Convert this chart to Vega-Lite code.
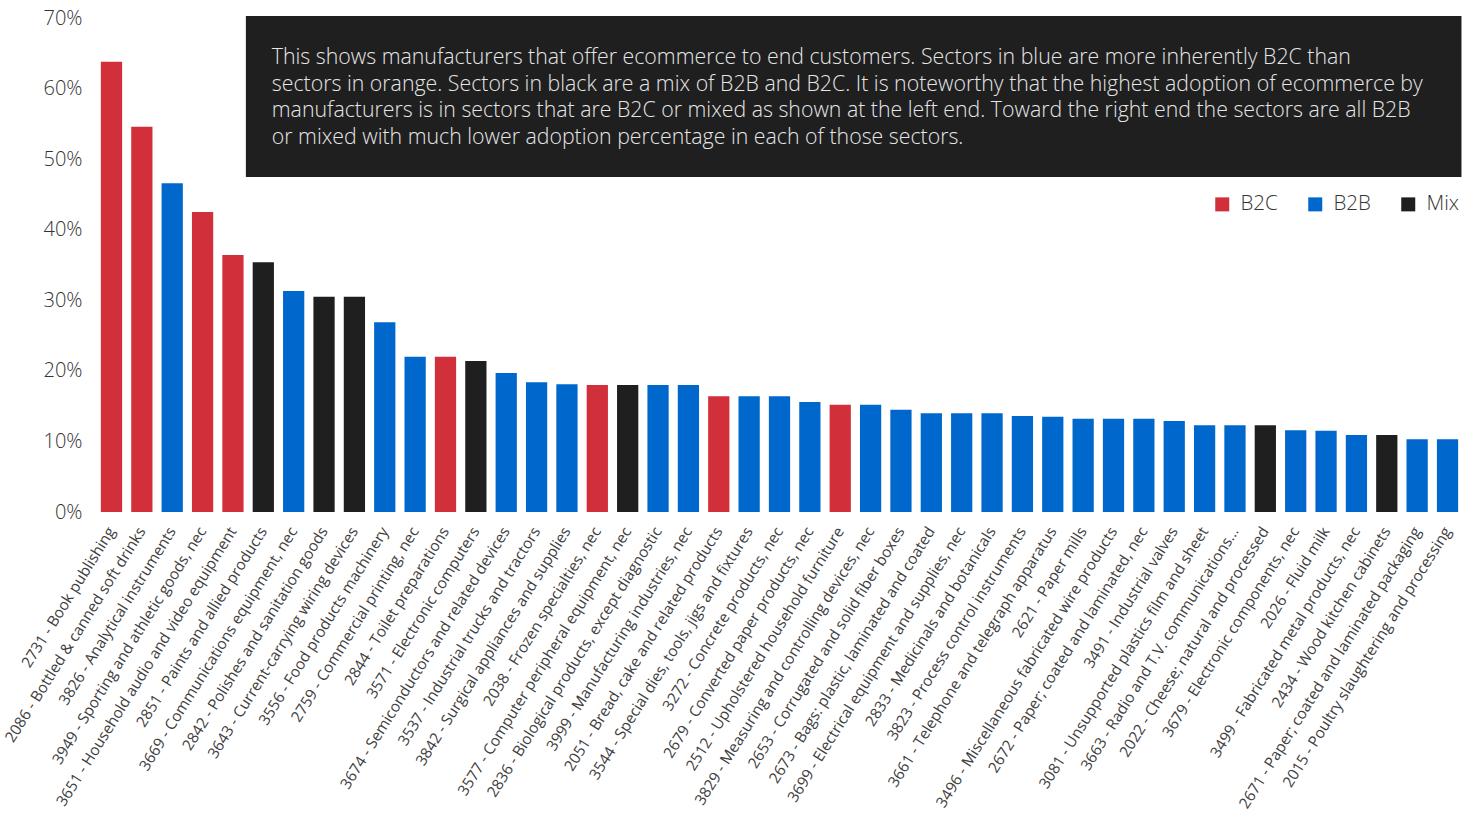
{
  "$schema": "https://vega.github.io/schema/vega-lite/v6.json",
  "autosize": {"type": "none"},
  "padding": {"left": 96, "top": 18, "right": 13, "bottom": 305},
  "width": 1367,
  "height": 494,
  "config": {
    "font": "Open Sans",
    "view": {"stroke": null},
    "background": "#ffffff"
  },
  "datasets": {
    "bars": [
      {"sector": "2731 - Book publishing", "share": 0.638, "type": "B2C"},
      {"sector": "2086 - Bottled & canned soft drinks", "share": 0.546, "type": "B2C"},
      {"sector": "3826 - Analytical instruments", "share": 0.466, "type": "B2B"},
      {"sector": "3949 - Sporting and athletic goods, nec", "share": 0.425, "type": "B2C"},
      {"sector": "3651 - Household audio and video equipment", "share": 0.364, "type": "B2C"},
      {"sector": "2851 - Paints and allied products", "share": 0.354, "type": "Mix"},
      {"sector": "3669 - Communications equipment, nec", "share": 0.313, "type": "B2B"},
      {"sector": "2842 - Polishes and sanitation goods", "share": 0.305, "type": "Mix"},
      {"sector": "3643 - Current-carrying wiring devices", "share": 0.305, "type": "Mix"},
      {"sector": "3556 - Food products machinery", "share": 0.269, "type": "B2B"},
      {"sector": "2759 - Commercial printing, nec", "share": 0.220, "type": "B2B"},
      {"sector": "2844 - Toilet preparations", "share": 0.220, "type": "B2C"},
      {"sector": "3571 - Electronic computers", "share": 0.214, "type": "Mix"},
      {"sector": "3674 - Semiconductors and related devices", "share": 0.197, "type": "B2B"},
      {"sector": "3537 - Industrial trucks and tractors", "share": 0.184, "type": "B2B"},
      {"sector": "3842 - Surgical appliances and supplies", "share": 0.181, "type": "B2B"},
      {"sector": "2038 - Frozen specialties, nec", "share": 0.180, "type": "B2C"},
      {"sector": "3577 - Computer peripheral equipment, nec", "share": 0.180, "type": "Mix"},
      {"sector": "2836 - Biological products, except diagnostic", "share": 0.180, "type": "B2B"},
      {"sector": "3999 - Manufacturing industries, nec", "share": 0.180, "type": "B2B"},
      {"sector": "2051 - Bread, cake and related products", "share": 0.164, "type": "B2C"},
      {"sector": "3544 - Special dies, tools, jigs and fixtures", "share": 0.164, "type": "B2B"},
      {"sector": "3272 - Concrete products, nec", "share": 0.164, "type": "B2B"},
      {"sector": "2679 - Converted paper products, nec", "share": 0.156, "type": "B2B"},
      {"sector": "2512 - Upholstered household furniture", "share": 0.152, "type": "B2C"},
      {"sector": "3829 - Measuring and controlling devices, nec", "share": 0.152, "type": "B2B"},
      {"sector": "2653 - Corrugated and solid fiber boxes", "share": 0.145, "type": "B2B"},
      {"sector": "2673 - Bags: plastic, laminated and coated", "share": 0.140, "type": "B2B"},
      {"sector": "3699 - Electrical equipment and supplies, nec", "share": 0.140, "type": "B2B"},
      {"sector": "2833 - Medicinals and botanicals", "share": 0.140, "type": "B2B"},
      {"sector": "3823 - Process control instruments", "share": 0.136, "type": "B2B"},
      {"sector": "3661 - Telephone and telegraph apparatus", "share": 0.135, "type": "B2B"},
      {"sector": "2621 - Paper mills", "share": 0.132, "type": "B2B"},
      {"sector": "3496 - Miscellaneous fabricated wire products", "share": 0.132, "type": "B2B"},
      {"sector": "2672 - Paper; coated and laminated, nec", "share": 0.132, "type": "B2B"},
      {"sector": "3491 - Industrial valves", "share": 0.129, "type": "B2B"},
      {"sector": "3081 - Unsupported plastics film and sheet", "share": 0.123, "type": "B2B"},
      {"sector": "3663 - Radio and T.V. communications...", "share": 0.123, "type": "B2B"},
      {"sector": "2022 - Cheese; natural and processed", "share": 0.123, "type": "Mix"},
      {"sector": "3679 - Electronic components, nec", "share": 0.116, "type": "B2B"},
      {"sector": "2026 - Fluid milk", "share": 0.115, "type": "B2B"},
      {"sector": "3499 - Fabricated metal products, nec", "share": 0.109, "type": "B2B"},
      {"sector": "2434 - Wood kitchen cabinets", "share": 0.109, "type": "Mix"},
      {"sector": "2671 - Paper; coated and laminated packaging", "share": 0.103, "type": "B2B"},
      {"sector": "2015 - Poultry slaughtering and processing", "share": 0.103, "type": "B2B"}
    ],
    "note": [
      {
        "sector": "2851 - Paints and allied products",
        "sectorEnd": "2015 - Poultry slaughtering and processing",
        "top": 0.703,
        "bottom": 0.4747,
        "textY": 0.6433,
        "note": "This shows manufacturers that offer ecommerce to end customers. Sectors in blue are more inherently B2C than\nsectors in orange. Sectors in black are a mix of B2B and B2C. It is noteworthy that the highest adoption of ecommerce by\nmanufacturers is in sectors that are B2C or mixed as shown at the left end. Toward the right end the sectors are all B2B\nor mixed with much lower adoption percentage in each of those sectors."
      }
    ]
  },
  "layer": [
    {
      "data": {"name": "bars"},
      "mark": {"type": "bar"},
      "encoding": {
        "x": {
          "field": "sector",
          "type": "nominal",
          "sort": null,
          "scale": {
            "domain": [
              "2731 - Book publishing",
              "2086 - Bottled & canned soft drinks",
              "3826 - Analytical instruments",
              "3949 - Sporting and athletic goods, nec",
              "3651 - Household audio and video equipment",
              "2851 - Paints and allied products",
              "3669 - Communications equipment, nec",
              "2842 - Polishes and sanitation goods",
              "3643 - Current-carrying wiring devices",
              "3556 - Food products machinery",
              "2759 - Commercial printing, nec",
              "2844 - Toilet preparations",
              "3571 - Electronic computers",
              "3674 - Semiconductors and related devices",
              "3537 - Industrial trucks and tractors",
              "3842 - Surgical appliances and supplies",
              "2038 - Frozen specialties, nec",
              "3577 - Computer peripheral equipment, nec",
              "2836 - Biological products, except diagnostic",
              "3999 - Manufacturing industries, nec",
              "2051 - Bread, cake and related products",
              "3544 - Special dies, tools, jigs and fixtures",
              "3272 - Concrete products, nec",
              "2679 - Converted paper products, nec",
              "2512 - Upholstered household furniture",
              "3829 - Measuring and controlling devices, nec",
              "2653 - Corrugated and solid fiber boxes",
              "2673 - Bags: plastic, laminated and coated",
              "3699 - Electrical equipment and supplies, nec",
              "2833 - Medicinals and botanicals",
              "3823 - Process control instruments",
              "3661 - Telephone and telegraph apparatus",
              "2621 - Paper mills",
              "3496 - Miscellaneous fabricated wire products",
              "2672 - Paper; coated and laminated, nec",
              "3491 - Industrial valves",
              "3081 - Unsupported plastics film and sheet",
              "3663 - Radio and T.V. communications...",
              "2022 - Cheese; natural and processed",
              "3679 - Electronic components, nec",
              "2026 - Fluid milk",
              "3499 - Fabricated metal products, nec",
              "2434 - Wood kitchen cabinets",
              "2671 - Paper; coated and laminated packaging",
              "2015 - Poultry slaughtering and processing"
            ],
            "paddingInner": 0.3,
            "paddingOuter": 0.16
          },
          "axis": {
            "title": null,
            "labelAngle": -58,
            "labelAlign": "right",
            "labelBaseline": "middle",
            "labelPadding": 16,
            "labelFontSize": 15.3,
            "labelColor": "#404040",
            "labelLimit": 500,
            "labelOverlap": false,
            "domain": false,
            "ticks": false,
            "grid": false
          }
        },
        "y": {
          "field": "share",
          "type": "quantitative",
          "scale": {"domain": [0, 0.7], "nice": false},
          "axis": {
            "title": null,
            "format": ".0%",
            "values": [0, 0.1, 0.2, 0.3, 0.4, 0.5, 0.6, 0.7],
            "labelFontSize": 20,
            "labelFontWeight": 300,
            "labelColor": "#333333",
            "labelPadding": 14,
            "domain": false,
            "ticks": false,
            "grid": false
          }
        },
        "color": {
          "field": "type",
          "type": "nominal",
          "scale": {"domain": ["B2C", "B2B", "Mix"], "range": ["#d12f3a", "#0068cc", "#1f1f1f"]},
          "legend": {
            "title": null,
            "orient": "none",
            "legendX": 1116,
            "legendY": 176,
            "direction": "horizontal",
            "padding": 0,
            "symbolType": "square",
            "symbolSize": 196,
            "symbolStrokeWidth": 0,
            "labelFontSize": 20.5,
            "labelFontWeight": 300,
            "labelColor": "#333333",
            "labelOffset": 8,
            "columnPadding": 27
          }
        }
      }
    },
    {
      "data": {"name": "note"},
      "mark": {"type": "rect", "color": "#1f1f1f"},
      "encoding": {
        "x": {"field": "sector", "type": "nominal", "bandPosition": -0.32},
        "x2": {"field": "sectorEnd", "bandPosition": 1.157},
        "y": {"field": "top", "type": "quantitative"},
        "y2": {"field": "bottom"}
      }
    },
    {
      "data": {"name": "note"},
      "mark": {
        "type": "text",
        "align": "left",
        "baseline": "middle",
        "fontSize": 21.3,
        "fontWeight": 300,
        "lineHeight": 26.7,
        "lineBreak": "\n",
        "color": "#e6e6e6"
      },
      "encoding": {
        "x": {"field": "sector", "type": "nominal", "bandPosition": 0.9},
        "y": {"field": "textY", "type": "quantitative"},
        "text": {"field": "note"}
      }
    }
  ]
}
